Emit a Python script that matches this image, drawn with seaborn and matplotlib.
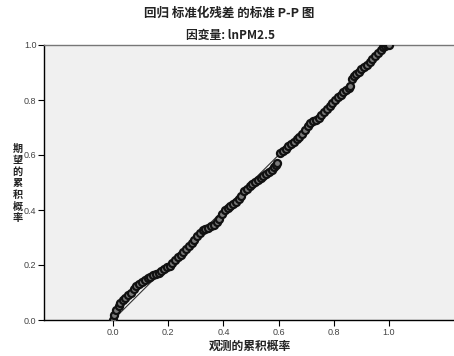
import matplotlib
matplotlib.use("Agg")
import matplotlib.pyplot as plt
import seaborn as sns
import pandas as pd

# Observed cumulative probability (x) and expected cumulative probability (y)
observed = [0.000, 0.005, 0.012, 0.020, 0.025, 0.035, 0.045, 0.055, 0.065, 0.075,
            0.085, 0.095, 0.105, 0.115, 0.125, 0.135, 0.145, 0.155, 0.165, 0.175,
            0.185, 0.195, 0.205, 0.215, 0.225, 0.235, 0.245, 0.255, 0.265, 0.275,
            0.285, 0.295, 0.305, 0.315, 0.325, 0.335, 0.345, 0.355, 0.365, 0.375,
            0.385, 0.395, 0.405, 0.415, 0.425, 0.435, 0.445, 0.455, 0.465, 0.475,
            0.485, 0.495, 0.505, 0.515, 0.525, 0.535, 0.545, 0.555, 0.565, 0.575,
            0.585, 0.592, 0.596, 0.605, 0.615, 0.625, 0.635, 0.645, 0.655, 0.665,
            0.675, 0.685, 0.695, 0.705, 0.715, 0.725, 0.735, 0.745, 0.755, 0.765,
            0.775, 0.785, 0.795, 0.805, 0.815, 0.825, 0.835, 0.845, 0.855, 0.860,
            0.865, 0.872, 0.880, 0.890, 0.900, 0.910, 0.920, 0.930, 0.940, 0.950,
            0.960, 0.970, 0.978, 0.985, 0.992, 1.000]
expected = [0.000, 0.020, 0.035, 0.050, 0.062, 0.072, 0.080, 0.090, 0.100, 0.112,
            0.122, 0.132, 0.140, 0.146, 0.152, 0.158, 0.163, 0.167, 0.171, 0.177,
            0.184, 0.191, 0.198, 0.208, 0.219, 0.229, 0.238, 0.249, 0.258, 0.268,
            0.280, 0.292, 0.305, 0.318, 0.326, 0.331, 0.336, 0.341, 0.347, 0.355,
            0.368, 0.385, 0.399, 0.408, 0.415, 0.422, 0.429, 0.440, 0.452, 0.468,
            0.478, 0.489, 0.494, 0.502, 0.510, 0.516, 0.522, 0.530, 0.537, 0.544,
            0.555, 0.565, 0.570, 0.606, 0.614, 0.622, 0.632, 0.640, 0.648, 0.657,
            0.665, 0.677, 0.690, 0.704, 0.716, 0.722, 0.729, 0.736, 0.745, 0.755,
            0.766, 0.778, 0.789, 0.800, 0.812, 0.820, 0.828, 0.836, 0.845, 0.852,
            0.878, 0.888, 0.896, 0.903, 0.911, 0.920, 0.928, 0.938, 0.948, 0.960,
            0.970, 0.982, 0.993, 0.997, 0.999, 1.000]
ticks = [0.0, 0.2, 0.4, 0.6, 0.8, 1.0]
tick_labels = ["0.0", "0.2", "0.4", "0.6", "0.8", "1.0"]
diag = [0.0, 1.0]

title1 = "回归 标准化残差 的标准 P-P 图"
title2 = "因变量: lnPM2.5"
xlabel = "观测的累积概率"
ylabel = "期望的累积概率"

sns.set_style("ticks")
plt.rcParams["font.family"] = ["Liberation Sans", "Noto Sans CJK SC", "DejaVu Sans"]

df = pd.DataFrame({"observed": observed, "expected": expected})

fig = plt.figure(figsize=(4.54, 3.56), dpi=100)
fig.patch.set_facecolor("white")
ax = fig.add_axes([44 / 454, 36 / 356, 1 - 44 / 454, 275 / 356])
ax.set_facecolor("#f0f0f0")

sns.lineplot(x=diag, y=diag, ax=ax, color="#333333", linewidth=0.8)
sns.scatterplot(data=df, x="observed", y="expected", ax=ax, s=26,
                facecolor="#7a7a7a", edgecolor="#111111", linewidth=1.6, zorder=3)

ax.set_xlim(-0.25, 1.2355)
ax.set_ylim(0.0, 1.0)
ax.set_xticks(ticks)
ax.set_xticklabels(tick_labels)
ax.set_yticks(ticks)
ax.set_yticklabels(tick_labels)
ax.tick_params(axis="both", labelsize=6.5, labelcolor="#444444", length=4, width=0.8,
               color="black", pad=1.5)
ax.set_xlabel("")
ax.set_ylabel("")

for side in ["left", "bottom"]:
    ax.spines[side].set_color("black")
    ax.spines[side].set_linewidth(1.0)
ax.spines["top"].set_visible(True)
ax.spines["top"].set_color("#777777")
ax.spines["top"].set_linewidth(1.0)
ax.spines["right"].set_visible(False)

cjk = ["Noto Sans CJK SC", "DejaVu Sans"]
fig.text(229 / 454, 1 - 13 / 356, title1, ha="center", va="center", fontsize=9,
         fontweight="bold", family=cjk, color="#222222")
fig.text(230 / 454, 1 - 35 / 356, title2, ha="center", va="center", fontsize=8.5,
         fontweight="bold", family=cjk, color="#222222")
fig.text(250 / 454, 1 - 346 / 356, xlabel, ha="center", va="center", fontsize=8.5,
         fontweight="bold", family=cjk, color="#222222")
# vertical, upright stacked characters for the y label
for i, ch in enumerate(ylabel):
    fig.text(17.5 / 454, 1 - (148.5 + i * 11.6) / 356, ch, ha="center", va="center",
             fontsize=7.3, fontweight="bold", family=cjk, color="#222222")

fig.savefig("out.png", dpi=100, facecolor="white")
